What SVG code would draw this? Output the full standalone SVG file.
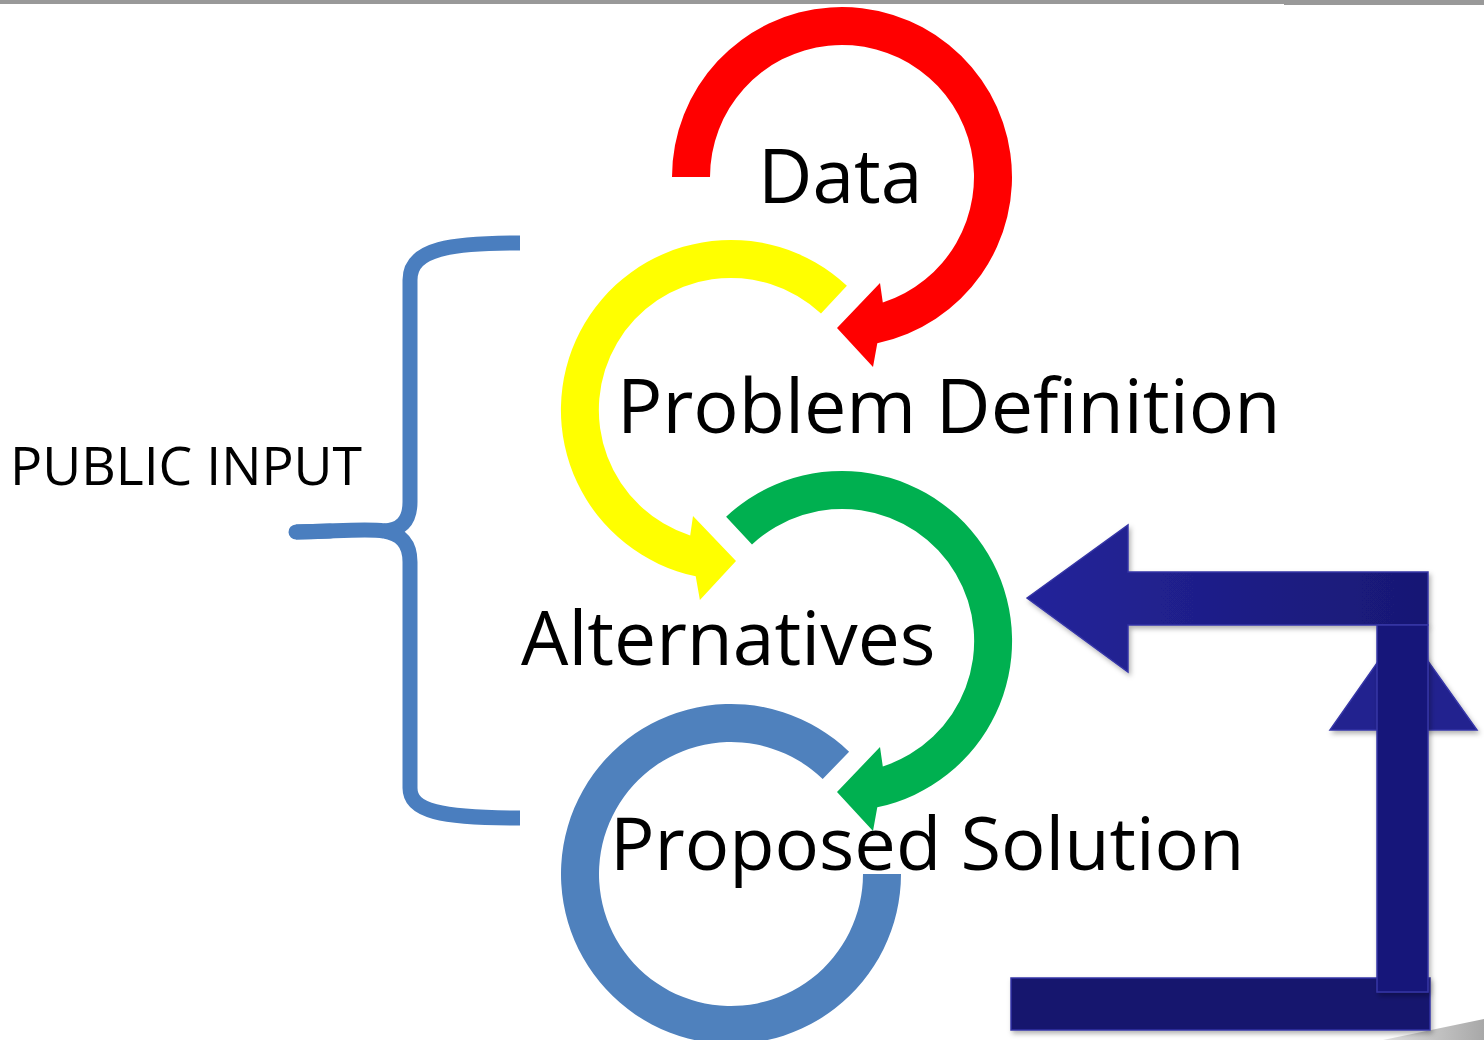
<svg xmlns="http://www.w3.org/2000/svg" width="1484" height="1040" viewBox="0 0 1484 1040">
  <defs>
    <linearGradient id="navyH" x1="0" y1="0" x2="1" y2="0">
      <stop offset="0" stop-color="#24249a"/>
      <stop offset="1" stop-color="#181874"/>
    </linearGradient>
    <linearGradient id="wedge" x1="0" y1="0" x2="1" y2="0">
      <stop offset="0" stop-color="#e0e0e0"/>
      <stop offset="1" stop-color="#a8a8a8"/>
    </linearGradient>
    <filter id="shadow" x="-10%" y="-10%" width="130%" height="130%">
      <feDropShadow dx="2" dy="3" stdDeviation="2.5" flood-color="#000" flood-opacity="0.3"/>
    </filter>
  </defs>
  <style>
    .big { font-family: "Open Sans", "Noto Sans", "Liberation Sans", sans-serif; font-size: 75px; fill: #000; }
    .side { font-family: "Open Sans", "Noto Sans", "Liberation Sans", sans-serif; font-size: 53.5px; fill: #000; }
    .navy { stroke: #3535a6; stroke-width: 1.5; }
    .brace { fill: none; stroke: #4a7ebf; stroke-width: 15; stroke-linejoin: round; }
  </style>

  <rect x="0" y="0" width="1484" height="1040" fill="#ffffff"/>
  <!-- top border -->
  <rect x="0" y="0" width="1484" height="4" fill="#999999"/>
  <rect x="1284" y="0" width="200" height="5" fill="#999999"/>
  <!-- bottom-right page curl -->
  <polygon points="1383,1040 1484,1019 1484,1040" fill="url(#wedge)"/>

  <g id="public-input">
    <path class="brace" d="M520,243 C452,243 410,248 410,280 L410,502 C410,522 400,530 384,531"/>
    <path class="brace" d="M296,532 C330,532 365,528 384,531 C400,534 410,542 410,562 L410,788 C410,811 440,818 520,818"/>
    <path class="brace" d="M296,532 L330,531" stroke-linecap="round"/>
    <text class="side" x="10" y="485">PUBLIC INPUT</text>
  </g>

  <g id="data">
    <path d="M672,177 A170,170 0 1 1 877.3,343.3 L873,367 L837,328 L880,283 L882.8,302.5 A132,132 0 1 0 710,177 Z" fill="#ff0000"/>
    <text class="big" x="758" y="203">Data</text>
  </g>

  <g id="problem-definition">
    <path d="M846.9,285.7 A170,170 0 1 0 695.7,576.3 L699.9,600 L736,561 L693,516 L690.2,535.5 A132,132 0 1 1 821,313.5 Z" fill="#ffff00"/>
    <text class="big" x="617" y="433" style="font-size:75.5px">Problem Definition</text>
  </g>

  <g id="alternatives">
    <path d="M726.1,516.7 A170,170 0 1 1 877.3,807.3 L873,831 L837,792 L880,747 L882.8,766.5 A132,132 0 1 0 752,544.5 Z" fill="#00b050"/>
    <text class="big" x="521" y="665">Alternatives</text>
  </g>

  <g id="proposed-solution">
    <path d="M901,874 A170,170 0 1 1 849.1,751.7 L822.7,779.1 A132,132 0 1 0 863,874 Z" fill="#4f81bd"/>
    <text class="big" x="610" y="870" style="font-size:74px">Proposed Solution</text>
  </g>

  <g id="connectors">
    <polygon class="navy" points="1027,598 1128,525 1128,572 1428,572 1428,625 1128,625 1128,672" fill="url(#navyH)" filter="url(#shadow)"/>
    <polygon class="navy" points="1330,730 1477,730 1403,626" fill="#20208f" filter="url(#shadow)"/>
    <rect class="navy" x="1011" y="978" width="419" height="52" fill="#16166e" filter="url(#shadow)"/>
    <rect class="navy" x="1377" y="625" width="51" height="367" fill="#19197a" filter="url(#shadow)"/>
  </g>
</svg>
